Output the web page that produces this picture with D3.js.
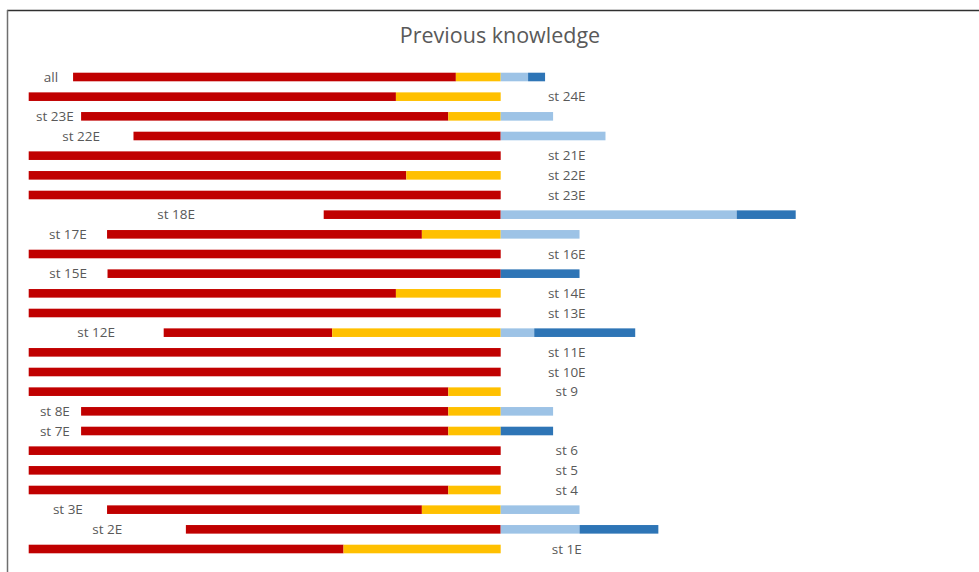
<!DOCTYPE html>
<html>
<head>
<meta charset="utf-8">
<script src="https://cdn.jsdelivr.net/npm/d3@7"></script>
<style>
  html, body { margin: 0; padding: 0; background: #fff; }
  svg { display: block; }
</style>
</head>
<body>
<svg id="chart" width="979" height="572"></svg>
<script>
// ---- data (percent of answers per student) ----
const categories = ["all","st 24E","st 23E","st 22E","st 21E","st 22E","st 23E","st 18E","st 17E","st 16E","st 15E","st 14E","st 13E","st 12E","st 11E","st 10E","st 9","st 8E","st 7E","st 6","st 5","st 4","st 3E","st 2E","st 1E"];
const noneValues   = [81.1, 77.8, 77.8, 77.8, 100, 80, 100, 37.5, 66.7, 100, 83.3, 77.8, 100, 35.7, 100, 100, 88.9, 77.8, 77.8, 100, 100, 88.9, 66.7, 66.7, 66.7];
const littleValues = [9.5, 22.2, 11.1, 0, 0, 20, 0, 0, 16.7, 0, 0, 22.2, 0, 35.7, 0, 0, 11.1, 11.1, 11.1, 0, 0, 11.1, 16.7, 0, 33.3];
const someValues   = [5.8, 0, 11.1, 22.2, 0, 0, 0, 50, 16.7, 0, 0, 0, 0, 7.1, 0, 0, 0, 11.1, 0, 0, 0, 0, 16.7, 16.7, 0];
const muchValues   = [3.6, 0, 0, 0, 0, 0, 0, 12.5, 0, 0, 16.7, 0, 0, 21.4, 0, 0, 0, 0, 11.1, 0, 0, 0, 0, 16.7, 0];
const title = "Previous knowledge";

const svg = d3.select("#chart");
const W = 979, H = 572;
const textColor = "#595959";
const fontFamily = "'Open Sans', 'Noto Sans', sans-serif";

// frame
svg.append("line").attr("x1", 7).attr("x2", W).attr("y1", 10.5).attr("y2", 10.5)
  .attr("stroke", "#303030").attr("stroke-width", 1.5);
svg.append("line").attr("x1", 7.5).attr("x2", 7.5).attr("y1", 10).attr("y2", H)
  .attr("stroke", "#6f6f6f").attr("stroke-width", 1.5);

// title
svg.append("text").attr("x", 500).attr("y", 43)
  .attr("text-anchor", "middle")
  .attr("font-family", fontFamily).attr("font-size", 21.5)
  .attr("fill", textColor).text(title);

// scales
const x = d3.scaleLinear().domain([-100, 100]).range([28.7, 972.7]);
const idx = d3.range(categories.length);
const y = d3.scalePoint().domain(idx).range([77, 549]);
const barH = 8.6;

const rows = idx.map(i => ({
  i, cat: categories[i],
  segs: [
    {x0: -(noneValues[i] + littleValues[i]), x1: -littleValues[i], color: "#C00000"},
    {x0: -littleValues[i], x1: 0, color: "#FFC000"},
    {x0: 0, x1: someValues[i], color: "#9DC3E6"},
    {x0: someValues[i], x1: someValues[i] + muchValues[i], color: "#2E75B6"}
  ].filter(s => s.x1 - s.x0 > 0)
}));

const g = svg.append("g");
const rowG = g.selectAll("g.row").data(rows).join("g").attr("class", "row");

rowG.selectAll("rect").data(d => d.segs.map(s => ({...s, i: d.i}))).join("rect")
  .attr("x", s => x(s.x0))
  .attr("width", s => x(s.x1) - x(s.x0))
  .attr("y", s => y(s.i) - barH / 2)
  .attr("height", barH)
  .attr("fill", s => s.color);

// category labels: in the empty space left of the bar, or right of centre when the negative side is full
rowG.append("text")
  .attr("x", d => {
    const neg = noneValues[d.i] + littleValues[d.i];
    if (neg >= 99.5) return x(14);
    return (x(-100) + x(-neg)) / 2;
  })
  .attr("y", d => y(d.i))
  .attr("dy", "0.35em")
  .attr("text-anchor", "middle")
  .attr("font-family", fontFamily).attr("font-size", 13.5)
  .attr("fill", textColor)
  .text(d => d.cat);
</script>
</body>
</html>
